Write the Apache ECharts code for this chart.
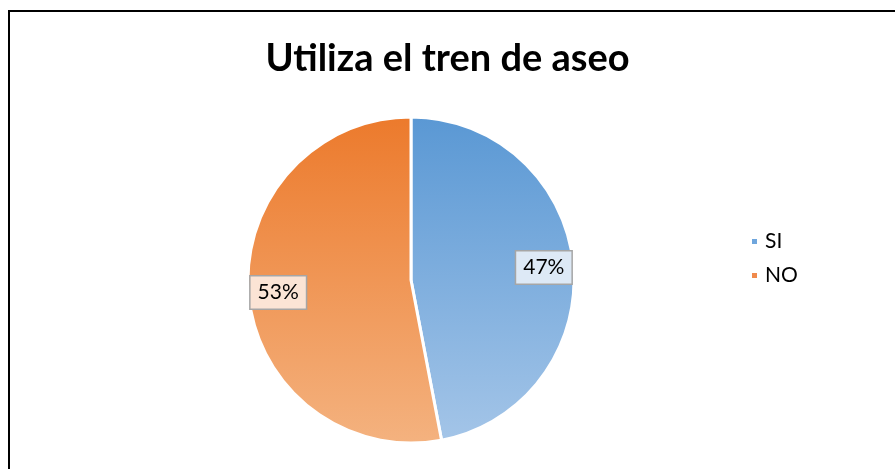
<!DOCTYPE html>
<html><head><meta charset="utf-8">
<script src="https://cdn.jsdelivr.net/npm/echarts@6/dist/echarts.min.js"></script>
<style>html,body{margin:0;padding:0;background:#fff;}#c{width:895px;height:469px;}</style>
</head><body><div id="c"></div>
<script>
const titleText = 'Utiliza el tren de aseo';
const categories = ['SI', 'NO'];
const values = [47, 53];
const labelTexts = ['47%', '53%'];

const gradients = [
  ['#5a98d4', '#a4c5e8'],
  ['#ec7a2c', '#f4b27f']
];
const labelBg = ['#dde9f6', '#fbe4d5'];
const legendColors = ['#6fa6dd', '#f08a4c'];

const chart = echarts.init(document.getElementById('c'), null, {renderer: 'canvas'});
const CX = 411, CY = 280, R = 163;
function grad(i) {
  return {type: 'linear', x: 0, y: CY - R, x2: 0, y2: CY + R, global: true,
    colorStops: [{offset: 0, color: gradients[i][0]}, {offset: 1, color: gradients[i][1]}]};
}
chart.setOption({
  animation: false,
  title: {text: titleText, left: 'center', top: 35,
    textStyle: {fontFamily: 'Lato', fontWeight: 'bold', fontSize: 38, color: '#000'}},
  graphic: [{type: 'rect', shape: {x: 9, y: 11, width: 900, height: 470},
    style: {fill: 'none', stroke: '#000', lineWidth: 2}, silent: true}],
  legend: {orient: 'vertical', left: 745, top: 226, itemWidth: 7, itemHeight: 7, itemGap: 13,
    icon: 'rect', data: categories.map((c, i) => ({name: c, itemStyle: {color: legendColors[i]}})),
    textStyle: {fontFamily: 'Lato', fontSize: 21, color: '#000', padding: [0, 0, 0, 2]}},
  series: [{
    type: 'pie', center: [CX, CY], radius: R, startAngle: 90, clockwise: true,
    label: {show: false}, labelLine: {show: false}, silent: true,
    itemStyle: {borderColor: '#fff', borderWidth: 3},
    data: categories.map((c, i) => ({name: c, value: values[i], itemStyle: {color: grad(i)}}))
  }, {
    type: 'pie', center: [CX, CY], radius: [R * 0.6, R], startAngle: 90, clockwise: true,
    silent: true, legendHoverLink: false,
    itemStyle: {color: 'rgba(0,0,0,0)', borderWidth: 0},
    labelLine: {show: false},
    label: {show: true, position: 'inside', fontFamily: 'Lato', fontSize: 21, color: '#000',
      borderColor: '#a6a6a6', borderWidth: 1.5, padding: [6, 7, 5, 7],
      formatter: p => labelTexts[p.dataIndex]},
    data: categories.map((c, i) => ({name: c + ' ', value: values[i],
      label: {backgroundColor: labelBg[i]}}))
  }]
});
</script></body></html>
